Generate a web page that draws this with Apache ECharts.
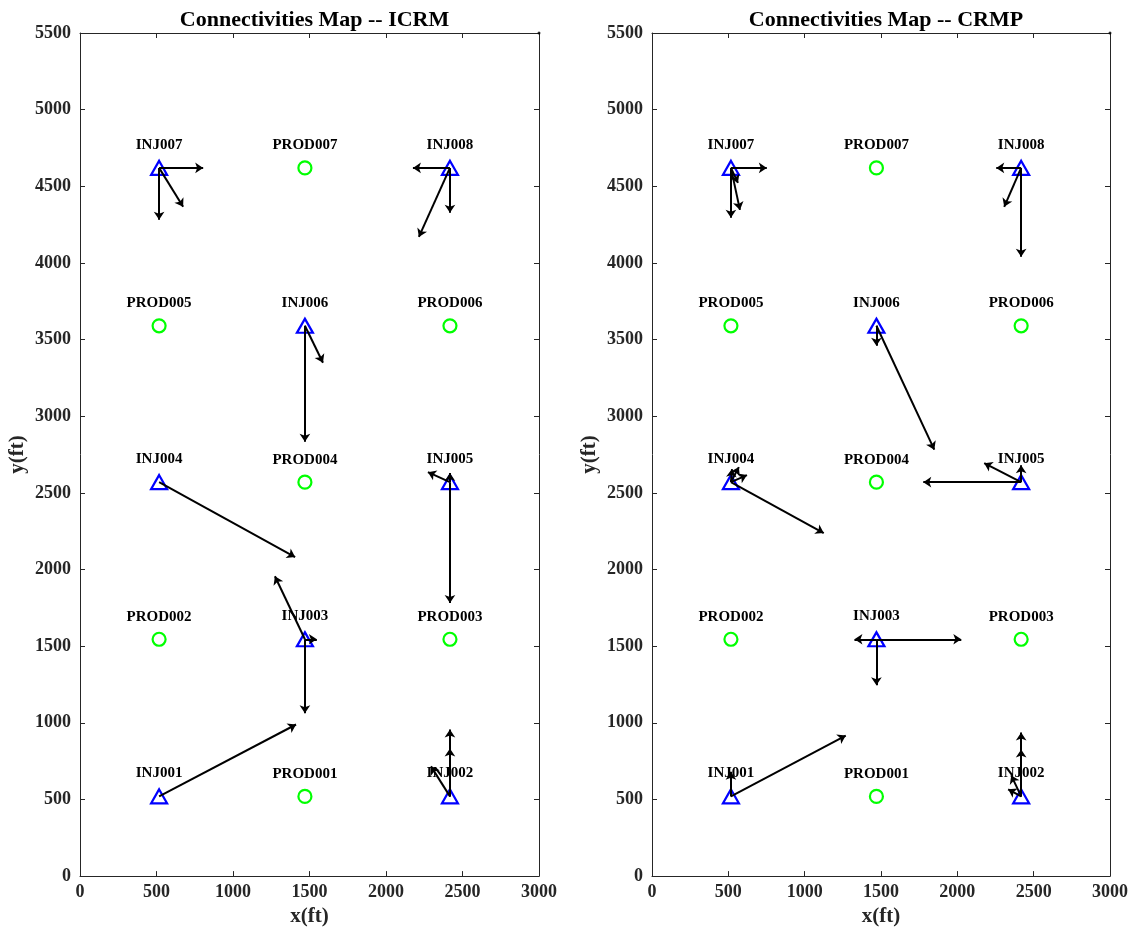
<!DOCTYPE html>
<html>
<head>
<meta charset="utf-8">
<title>Connectivities Map</title>
<script src="https://cdn.jsdelivr.net/npm/echarts@6/dist/echarts.min.js"></script>
<style>
  html, body { margin: 0; padding: 0; background: #fff; }
  #chart { width: 1137px; height: 932px; }
</style>
</head>
<body>
<div id="chart"></div>
<script>
// Well locations (ft)
const wellNames = ['INJ001','PROD001','INJ002','PROD002','INJ003','PROD003','INJ004','PROD004','INJ005',
                   'PROD005','INJ006','PROD006','INJ007','PROD007','INJ008'];
const wellX = [517, 1470, 2418, 517, 1470, 2418, 517, 1470, 2418, 517, 1470, 2418, 517, 1470, 2418];
const wellY = [520, 520, 520, 1545, 1545, 1545, 2570, 2570, 2570, 3590, 3590, 3590, 4620, 4620, 4620];

// Connectivity vectors per injector: [injector, dx (ft), dy (ft)]
const icrmVectors = [
  ['INJ001', 895, 469],
  ['INJ002', 0, 437], ['INJ002', 0, 313], ['INJ002', -124, 196],
  ['INJ003', -196, 411], ['INJ003', 78, 0], ['INJ003', 0, -482],
  ['INJ004', 889, -489],
  ['INJ005', 0, -789], ['INJ005', -144, 65], ['INJ005', 0, 59],
  ['INJ006', 0, -756], ['INJ006', 118, -241],
  ['INJ007', 288, 0], ['INJ007', 0, -339], ['INJ007', 157, -254],
  ['INJ008', -242, 0], ['INJ008', 0, -293], ['INJ008', -203, -450]
];
const crmpVectors = [
  ['INJ001', 752, 397], ['INJ001', 0, 160],
  ['INJ002', 0, 417], ['INJ002', 0, 306], ['INJ002', -65, 137], ['INJ002', -85, 46],
  ['INJ003', -144, 0], ['INJ003', 556, 0], ['INJ003', 0, -300],
  ['INJ004', 608, -332], ['INJ004', 7, 85], ['INJ004', 52, 98], ['INJ004', 105, 46],
  ['INJ005', -641, 0], ['INJ005', -242, 124], ['INJ005', 0, 111],
  ['INJ006', 0, -130], ['INJ006', 379, -808],
  ['INJ007', 235, 0], ['INJ007', 0, -326], ['INJ007', 59, -274], ['INJ007', 46, -98],
  ['INJ008', -163, 0], ['INJ008', 0, -580], ['INJ008', -111, -254]
];

const xTicks = [0, 500, 1000, 1500, 2000, 2500, 3000];
const yTicks = [0, 500, 1000, 1500, 2000, 2500, 3000, 3500, 4000, 4500, 5000, 5500];
const panelTitles = ['Connectivities Map -- ICRM', 'Connectivities Map -- CRMP'];
const cornerPoint = [3000, 5500];

const FONT = '"Liberation Serif", "Times New Roman", serif';
const AXIS_INK = '#262626';
const grids = [
  { left: 80, top: 33, width: 459, height: 844 },
  { left: 652, top: 33, width: 458, height: 844 }
];

function wellIndex(name) { return wellNames.indexOf(name); }

function wellPoints(prefix) {
  return wellNames.map((n, i) => ({ name: n, value: [wellX[i], wellY[i]] }))
                  .filter(d => d.name.startsWith(prefix));
}
function arrowData(vectors) {
  return vectors.map(([w, dx, dy]) => {
    const i = wellIndex(w);
    return { coords: [[wellX[i], wellY[i]], [wellX[i] + dx, wellY[i] + dy]] };
  });
}

const xAxes = [], yAxes = [], series = [], titles = [];
grids.forEach((g, k) => {
  const base = {
    gridIndex: k, type: 'value', min: 0,
    axisLine: { show: true, onZero: false, lineStyle: { color: AXIS_INK, width: 1 } },
    axisTick: { show: true, inside: true, length: 5, lineStyle: { color: AXIS_INK } },
    splitLine: { show: false }
  };
  const tickLabel = {
    fontFamily: FONT, fontWeight: 'bold', fontSize: 18, color: AXIS_INK,
    formatter: v => String(v)
  };
  const nameStyle = { fontFamily: FONT, fontWeight: 'bold', fontSize: 21, color: AXIS_INK };
  xAxes.push(Object.assign({}, base, {
    max: xTicks[xTicks.length - 1], interval: xTicks[1] - xTicks[0], position: 'bottom',
    name: 'x(ft)', nameLocation: 'middle', nameGap: 27, nameTextStyle: nameStyle,
    axisLabel: Object.assign({ margin: 7 }, tickLabel)
  }));
  xAxes.push(Object.assign({}, base, {
    max: xTicks[xTicks.length - 1], interval: xTicks[1] - xTicks[0], position: 'top',
    axisLabel: { show: false }
  }));
  yAxes.push(Object.assign({}, base, {
    max: yTicks[yTicks.length - 1], interval: yTicks[1] - yTicks[0], position: 'left',
    name: 'y(ft)', nameLocation: 'middle', nameGap: 52, nameRotate: 90, nameTextStyle: nameStyle,
    axisLabel: Object.assign({ margin: 9 }, tickLabel)
  }));
  yAxes.push(Object.assign({}, base, {
    max: yTicks[yTicks.length - 1], interval: yTicks[1] - yTicks[0], position: 'right',
    axisLabel: { show: false }
  }));

  titles.push({
    text: panelTitles[k],
    left: g.left + g.width / 2, top: 4, textAlign: 'center',
    textStyle: { fontFamily: FONT, fontWeight: 'bold', fontSize: 22, color: '#000' }
  });

  const xi = 2 * k, yi = 2 * k;
  const labelStyle = () => ({
    show: true, position: 'top', distance: 6, formatter: '{b}',
    fontFamily: FONT, fontWeight: 700, fontSize: 15, color: '#000', opacity: 1,
    textBorderWidth: 0
  });
  series.push({
    type: 'lines', coordinateSystem: 'cartesian2d', xAxisIndex: xi, yAxisIndex: yi,
    data: arrowData(k === 0 ? icrmVectors : crmpVectors),
    symbol: ['none', 'arrow'], symbolSize: 8,
    lineStyle: { color: '#000', width: 2, opacity: 1 },
    silent: true, z: 3
  });
  series.push({
    type: 'scatter', xAxisIndex: xi, yAxisIndex: yi,
    data: wellPoints('PROD'), symbol: 'circle', symbolSize: 13,
    itemStyle: { color: 'none', borderColor: '#00ff00', borderWidth: 2.2, opacity: 1 },
    label: labelStyle(), silent: true, z: 2
  });
  series.push({
    type: 'scatter', xAxisIndex: xi, yAxisIndex: yi,
    data: wellPoints('INJ'), symbol: 'triangle', symbolSize: [16, 14],
    itemStyle: { color: 'none', borderColor: '#0000ff', borderWidth: 2.2, opacity: 1 },
    label: labelStyle(), silent: true, z: 2
  });
  series.push({
    type: 'scatter', xAxisIndex: xi, yAxisIndex: yi,
    data: [cornerPoint], symbolSize: 3, clip: false,
    itemStyle: { color: '#000' }, silent: true, z: 4
  });
});

const chart = echarts.init(document.getElementById('chart'), null, { renderer: 'canvas' });
chart.setOption({
  animation: false,
  backgroundColor: '#fff',
  title: titles,
  grid: grids,
  xAxis: xAxes,
  yAxis: yAxes,
  series: series
});
</script>
</body>
</html>
